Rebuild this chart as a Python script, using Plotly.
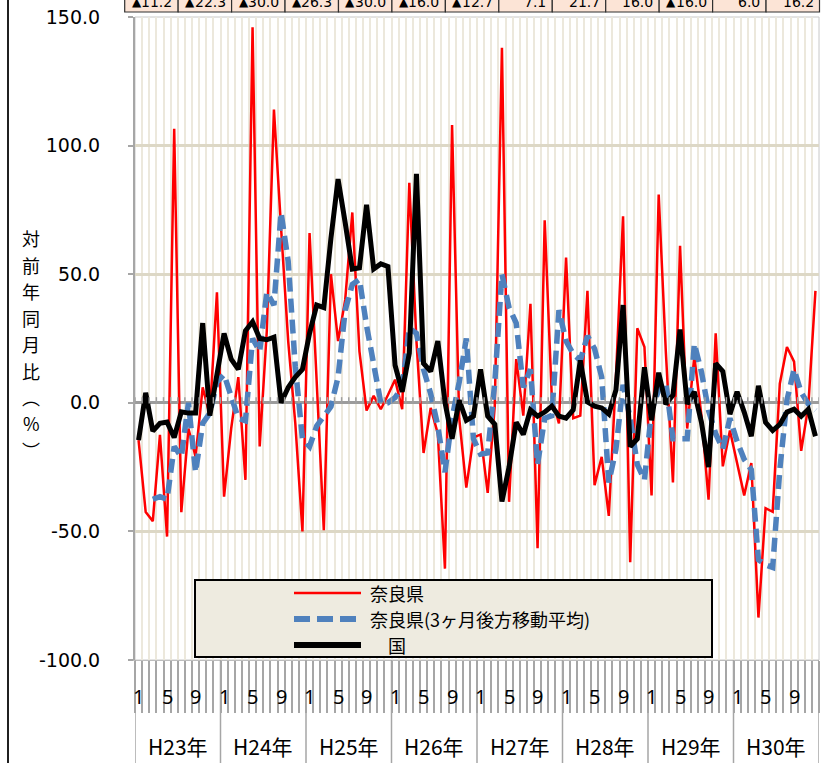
import plotly.graph_objects as go

# ---------------- data ----------------
months = list(range(1, 97))  # H23.1 ... H30.12
years = ["H23年", "H24年", "H25年", "H26年", "H27年", "H28年", "H29年", "H30年"]
month_labels = ["1", "5", "9"]
month_label_pos = [1, 5, 9]

nara = [-14.5, -42.5, -46, -12.5, -52, 106.5, -42.5, -10, -21, 6, -5, 43,
        -36.5, -10, 10, -30, 146, -17, 28, 114, 68, 24, -8, -50,
        66, 9, -49.5, 50, 24, 40, 74, 20, -3, 2.7, -2.5, 3,
        9, -2.5, 85.5, 24, -19.5, -2, -12, -64.5, 108, -6, -33, -13.5,
        -12.3, -35, -1, 138, -38.5, 17, -5, 38.5, -56.5, 71, 2, -8,
        56.5, -6, -5, 43.5, -32, -21, -44, 10, 72.5, -62, 29, 21.7,
        -36, 81, 20, -31, 61, -10, 18, -5, -37.7, 27, -24.7, -10.8,
        -23, -36, -23.4, -83.5, -41, -42.4, 7.4, 21.7, 16, -18.7, -1.3, 43.5]

nara_ma3 = [None, None, -37.5, -36.5, -37.5, -17, -21, 0, -27, -8, -4, 8,
            11, 3, -6, -7, 25, 20, 43, 38, 74, 55, 14, -14,
            -17, -9, -5, -1.5, 10, 36, 46, 48, 30, 15, 0, 0,
            2, 6, 29, 27, 13, 3.5, -9, -27, -6, 8, 25, -14,
            -20, -19.5, 8, 50, 37, 31, 6, 13, -24, -6, -5, 36,
            24, 19, 16.5, 26, 21, 10, -31, -18, 7, -6, -24, -30,
            -3, 5, 8, -14, -14, -14, 23, 12, -3, -12, -18, -6,
            -15, -22, -26, -61, -63, -64, -26, 1, 13, 4, -0.5, -3]

kuni = [-14.5, 3.9, -11, -8, -7.5, -13.5, -3.5, -4, -4, 31, -5, 11,
        27, 17, 13, 28, 31.5, 25, 24.5, 25.5, 0, 6, 10, 13,
        27, 38, 37, 64, 87, 70, 52, 52.5, 77, 52, 54, 53,
        14.6, 4.3, 19.3, 89, 15.3, 12.2, 24, 0.3, -14, 1, -6.8, -5.2,
        13, -5.2, -8.4, -38.4, -25, -7.6, -12.3, -2.8, -5.2, -3.6, -1.3, -5.2,
        -6, -2.8, 16.5, 0.3, -1.3, -2, -4.4, 5, 38, -17, -14, 13.8,
        -6.8, 11.7, -0.5, 3, 28.5, -0.5, 4.3, -7.6, -25, 15.3, 12.2, -4.4,
        4.3, -3.6, -13, 6.6, -7.6, -10.8, -8.4, -3.6, -2.5, -5.2, -2.5, -13]

series_names = ["奈良県", "奈良県(3ヶ月後方移動平均)", "国"]
y_tickvals = [-100, -50, 0, 50, 100, 150]
y_ticktext = ["-100.0", "-50.0", "0.0", "50.0", "100.0", "150.0"]
table_vals = ["▲11.2", "▲22.3", "▲30.0", "▲26.3", "▲30.0", "▲16.0", "▲12.7",
              "7.1", "21.7", "16.0", "▲16.0", "6.0", "16.2"]
y_title_chars = ["対", "前", "年", "同", "月", "比", "︵", "%", "︶"]

# ---------------- layout helpers ----------------
W, H = 825, 763
L, R, T, B = 135, 6, 17, 103
PW, PH = W - L - R, H - T - B


def px_x(p):
    return (p - L) / PW


def px_y(p):
    return (H - B - p) / PH


RED = "#FF0000"
BLUE = "#4F81BD"
JP = "Noto Sans CJK JP"

fig = go.Figure()
fig.add_trace(go.Scatter(x=months, y=nara, mode="lines", name=series_names[0],
                         line=dict(color=RED, width=2.5), hoverinfo="skip"))
fig.add_trace(go.Scatter(x=months, y=nara_ma3, mode="lines", name=series_names[1],
                         line=dict(color=BLUE, width=5.5, dash="14px,7px"), hoverinfo="skip"))
fig.add_trace(go.Scatter(x=months, y=kuni, mode="lines", name=series_names[2],
                         line=dict(color="black", width=5), hoverinfo="skip"))

shapes = []
annotations = []

# plot area frame
shapes.append(dict(type="rect", xref="paper", yref="paper", x0=0, x1=1, y0=0, y1=1,
                   line=dict(color="#C8C8C8", width=1), layer="below"))

# zero-line tick marks at category boundaries
for k in range(len(months) + 1):
    b = 0.5 + k
    shapes.append(dict(type="line", xref="x", yref="y", x0=b, x1=b, y0=-0.3, y1=2.2,
                       line=dict(color="#A0A0A0", width=1.5)))

# year separators in the label area
for k in range(len(years) + 1):
    b = 0.5 + 12 * k
    shapes.append(dict(type="line", xref="x", yref="paper", x0=b, x1=b,
                       y0=0, y1=px_y(763), line=dict(color="#A6A6A6", width=1.5)))

# month labels & year labels
for yi, yl in enumerate(years):
    for ml, mp in zip(month_labels, month_label_pos):
        annotations.append(dict(x=12 * yi + mp, xref="x", y=px_y(697), yref="paper",
                                text=ml, showarrow=False, xanchor="center", yanchor="middle",
                                font=dict(family="Noto Sans", size=20, color="black")))
    annotations.append(dict(x=12 * yi + 6.5, xref="x", y=px_y(746), yref="paper",
                            text=yl, showarrow=False, xanchor="center", yanchor="middle",
                            font=dict(family=JP, size=21, color="black")))

# y axis title (vertical, one character per row)
for k, ch in enumerate(y_title_chars):
    annotations.append(dict(x=px_x(31), xref="paper", y=px_y(238 + 26.5 * k), yref="paper",
                            text=ch, showarrow=False, xanchor="center", yanchor="middle",
                            font=dict(family=JP, size=18, color="black")))

# left outer border line
shapes.append(dict(type="line", xref="paper", yref="paper", x0=px_x(8), x1=px_x(8),
                   y0=px_y(0), y1=px_y(763), line=dict(color="#202020", width=2)))

# top table strip (clipped at the top of the page, as in the original)
cell_l, cell_r = 124.7, 819.5
cw = (cell_r - cell_l) / len(table_vals)
for i, v in enumerate(table_vals):
    x0 = cell_l + i * cw
    x1 = x0 + cw
    shapes.append(dict(type="rect", xref="paper", yref="paper",
                       x0=px_x(x0), x1=px_x(x1), y0=px_y(12), y1=px_y(-10),
                       fillcolor="#FCE4D6", line=dict(color="#303030", width=1.2)))
    if v.startswith("▲"):
        annotations.append(dict(x=px_x(x0 + 5), xref="paper", y=px_y(1.5), yref="paper",
                                text="▲", showarrow=False, xanchor="left", yanchor="middle",
                                font=dict(family="DejaVu Sans", size=12, color="black")))
        num = v[1:]
    else:
        num = v
    annotations.append(dict(x=px_x(x1 - 4), xref="paper", y=px_y(1.5), yref="paper",
                            text=num, showarrow=False, xanchor="right", yanchor="middle",
                            font=dict(family="DejaVu Sans", size=14, color="black")))

# manual legend
shapes.append(dict(type="rect", xref="paper", yref="paper", x0=px_x(195), x1=px_x(712),
                   y0=px_y(657), y1=px_y(580), fillcolor="#EEEBE0",
                   line=dict(color="black", width=2)))
leg_rows = [593, 619, 645]
leg_lines = [dict(color=RED, width=2.5), dict(color=BLUE, width=6, dash="16px,7px"),
             dict(color="black", width=6)]
leg_text_x = [368, 368, 386]
for name, ry, ln, tx in zip(series_names, leg_rows, leg_lines, leg_text_x):
    shapes.append(dict(type="line", xref="paper", yref="paper", x0=px_x(294), x1=px_x(361),
                       y0=px_y(ry), y1=px_y(ry), line=ln))
    annotations.append(dict(x=px_x(tx), xref="paper", y=px_y(ry), yref="paper", text=name,
                            showarrow=False, xanchor="left", yanchor="middle",
                            font=dict(family=JP, size=18, color="black")))

fig.update_layout(
    width=W, height=H,
    margin=dict(l=L, r=R, t=T, b=B, pad=0),
    paper_bgcolor="white", plot_bgcolor="white",
    showlegend=False,
    shapes=shapes, annotations=annotations,
    xaxis=dict(range=[0.5, 96.5], tick0=0.5, dtick=1, showticklabels=False,
               showgrid=True, gridcolor="#ECE8DC", gridwidth=2, zeroline=False,
               ticks="outside", ticklen=52, tickwidth=1.5, tickcolor="#A6A6A6",
               showline=True, linecolor="#BDBDBD", linewidth=1),
    yaxis=dict(range=[-100, 150], tickmode="array", tickvals=y_tickvals, ticktext=y_ticktext,
               showgrid=True, gridcolor="#DDD8C6", gridwidth=2.5,
               zeroline=True, zerolinecolor="#9C9C9C", zerolinewidth=2.5,
               showline=True, linecolor="#A6A6A6", linewidth=2,
               ticks="outside", ticklen=5, tickcolor="#A6A6A6", tickwidth=1.5,
               ticklabelstandoff=24,
               tickfont=dict(family="DejaVu Sans", size=19, color="black")),
)

fig.write_html("out.html", config={"displayModeBar": False},
               post_script="document.body.style.margin='0px';document.body.style.overflow='hidden';")
